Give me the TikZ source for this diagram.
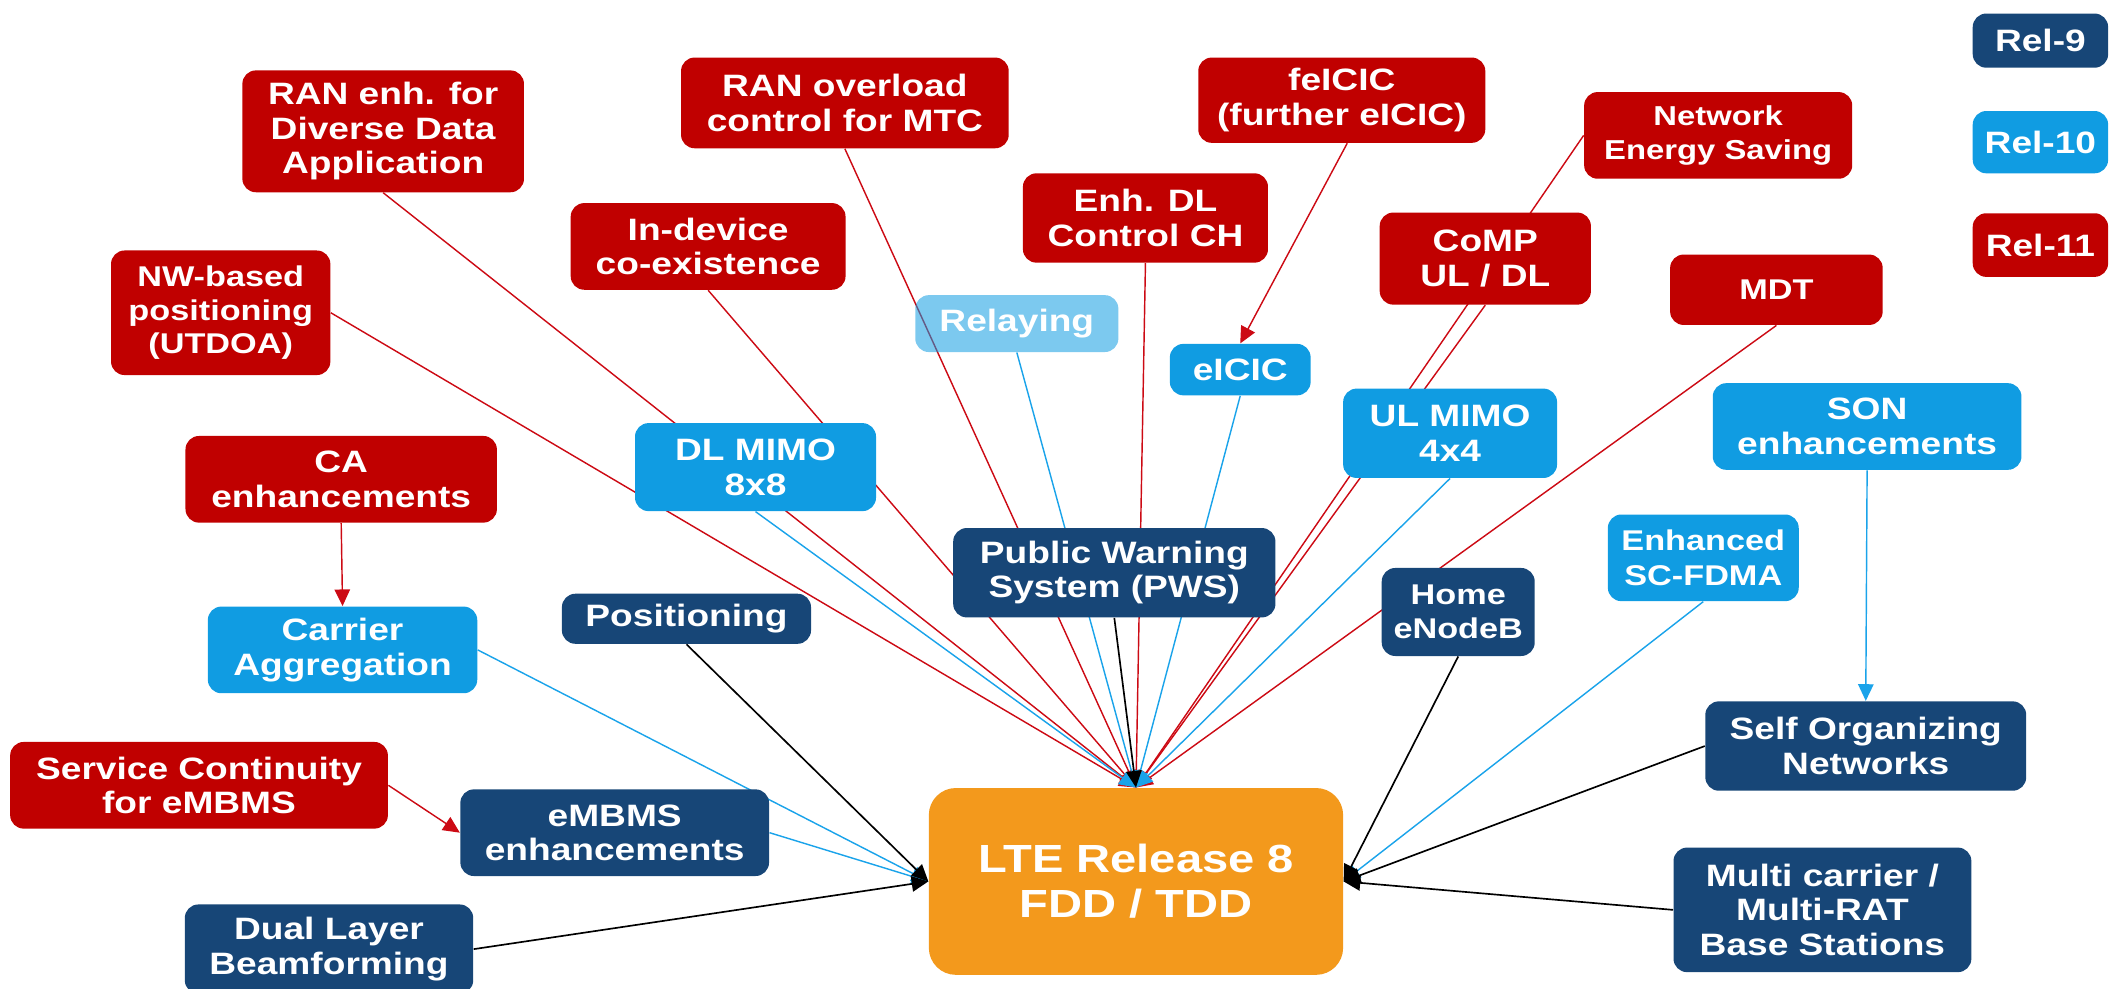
\documentclass[tikz,border=0pt]{standalone}
\usepackage{fontspec}
\newfontfamily\boxfont{Liberation Sans}[FakeStretch=1.2]
\usetikzlibrary{arrows.meta}
\pgfdeclarelayer{background}
\pgfsetlayers{background,main}

\definecolor{relred}{HTML}{C00000}
\definecolor{relblue}{HTML}{109CE2}
\definecolor{reldark}{HTML}{174677}
\definecolor{lteorange}{HTML}{F3991C}
\definecolor{linered}{HTML}{CC0A14}
\definecolor{lineblue}{HTML}{1AA3EA}

\tikzset{
  sz/.style 2 args={minimum width=#1*0.02cm, minimum height=#2*0.02cm},
  box/.style={rounded corners=0.2cm, inner sep=1pt, align=center, text=white,
    font=\boxfont\bfseries\fontsize{13}{14.5}\selectfont},
  rel11/.style={box, fill=relred},
  rel10/.style={box, fill=relblue},
  rel9/.style={box, fill=reldark},
  relfaint/.style={box, fill=relblue, fill opacity=0.55, text opacity=1},
  ltebox/.style={box, fill=lteorange, rounded corners=0.4cm,
    font=\boxfont\bfseries\fontsize{16.5}{19}\selectfont},
  tip/.style={-{Triangle[length=7pt,width=6.5pt]}},
  redln/.style={draw=linered, line width=0.6pt, tip},
  blueln/.style={draw=lineblue, line width=0.6pt, tip},
  blackln/.style={draw=black, line width=0.7pt, tip},
}

\begin{document}
\begin{tikzpicture}[x=0.02cm, y=-0.02cm]
\useasboundingbox (0,0) rectangle (1568,730);
\clip (0,0) rectangle (1568,730);

% legend
\node[rel9,  sz={100}{40}] (leg9)  at (1507,30)  {Rel-9};
\node[rel10, sz={100}{46}] (leg10) at (1507,105) {Rel-10};
\node[rel11, sz={100}{47}] (leg11) at (1507,181) {Rel-11};

% Rel-11 features
\node[rel11, sz={208}{90}] (ranDDA)  at (283,97)   {RAN enh. for\\Diverse Data\\Application};
\node[rel11, sz={242}{67}] (ranover) at (624,76)   {RAN overload\\control for MTC};
\node[rel11, sz={212}{63}] (feicic)  at (991,74)   {feICIC\\(further eICIC)};
\node[rel11, sz={198}{64}, font=\boxfont\bfseries\fontsize{11.5}{14.5}\selectfont] (nes) at (1269,100) {Network\\Energy Saving};
\node[rel11, sz={203}{64}] (indev)   at (523,182)  {In-device\\co-existence};
\node[rel11, sz={181}{66}] (enhdl)   at (846,161)  {Enh. DL\\Control CH};
\node[rel11, sz={156}{68}] (comp)    at (1097,191) {CoMP\\UL / DL};
\node[rel11, sz={157}{52}, font=\boxfont\bfseries\fontsize{12}{14.5}\selectfont] (mdt) at (1312,214) {MDT};
\node[rel11, sz={162}{92}, font=\boxfont\bfseries\fontsize{12}{14}\selectfont] (nwpos) at (163,231) {NW-based\\positioning\\(UTDOA)};
\node[rel11, sz={230}{64}] (caenh)   at (252,354)  {CA\\enhancements};
\node[rel11, sz={279}{64}] (svc)     at (147,580)  {Service Continuity\\for eMBMS};

% Rel-10 features
\node[relfaint, sz={150}{42}] (relay) at (751,239) {Relaying};
\node[rel10, sz={104}{38}] (eicic)   at (916,273)  {eICIC};
\node[rel10, sz={158}{66}] (ulmimo)  at (1071,320) {UL MIMO\\4x4};
\node[rel10, sz={228}{64}] (sonenh)  at (1379,315) {SON\\enhancements};
\node[rel10, sz={178}{65}] (dlmimo)  at (558,345)  {DL MIMO\\8x8};
\node[rel10, sz={141}{64}, font=\boxfont\bfseries\fontsize{12}{14.5}\selectfont] (escfdma) at (1258,412) {Enhanced\\SC-FDMA};
\node[rel10, sz={199}{64}] (carrier) at (253,480)  {Carrier\\Aggregation};

% Rel-9 features
\node[rel9, sz={238}{66}] (pws)      at (823,423)  {Public Warning\\System (PWS)};
\node[rel9, sz={184}{37}] (posn)     at (507,457)  {Positioning};
\node[rel9, sz={113}{65}, font=\boxfont\bfseries\fontsize{12}{14.5}\selectfont] (home) at (1077,452) {Home\\eNodeB};
\node[rel9, sz={237}{66}] (sonnet)   at (1378,551) {Self Organizing\\Networks};
\node[rel9, sz={228}{64}] (embms)    at (454,615)  {eMBMS\\enhancements};
\node[rel9, sz={213}{66}] (dual)     at (243,701)  {Dual Layer\\Beamforming};
\node[rel9, sz={220}{92}] (multi)    at (1346,672) {Multi carrier /\\Multi-RAT\\Base Stations};

% Release 8 baseline
\node[ltebox, sz={306}{138}] (lte) at (839,651) {LTE Release 8\\FDD / TDD};

\begin{pgfonlayer}{background}
  % into the top of the baseline
  \draw[redln]   (ranDDA.south)  -- (lte.north);
  \draw[redln]   (nwpos.east)    -- (lte.north);
  \draw[redln]   (indev.south)   -- (lte.north);
  \draw[redln]   (ranover.south) -- (lte.north);
  \draw[redln]   (enhdl.south)   -- (lte.north);
  \draw[redln]   (nes.west)      -- (lte.north);
  \draw[redln]   (comp.south)    -- (lte.north);
  \draw[redln]   (mdt.south)     -- (lte.north);
  \draw[blueln]  (dlmimo.south)  -- (lte.north);
  \draw[blueln]  (relay.south)   -- (lte.north);
  \draw[blueln]  (eicic.south)   -- (lte.north);
  \draw[blueln]  (ulmimo.south)  -- (lte.north);
  \draw[blackln] (pws.south)     -- (lte.north);
  % into the left side
  \draw[blueln]  (carrier.east)  -- (lte.west);
  \draw[blueln]  (embms.east)    -- (lte.west);
  \draw[blackln] (posn.south)    -- (lte.west);
  \draw[blackln] (dual.east)     -- (lte.west);
  % into the right side
  \draw[blueln]  (escfdma.south) -- (lte.east);
  \draw[blackln] (home.south)    -- (lte.east);
  \draw[blackln] (sonnet.west)   -- (lte.east);
  \draw[blackln] (multi.west)    -- (lte.east);
  % feature evolutions
  \draw[redln]   ([xshift=0.08cm]feicic.south) -- (eicic.north);
  \draw[redln]   (caenh.south)   -- (carrier.north);
  \draw[blueln]  (sonenh.south)  -- (sonnet.north);
  \draw[redln]   (svc.east)      -- (embms.west);
\end{pgfonlayer}
\end{tikzpicture}
\end{document}
